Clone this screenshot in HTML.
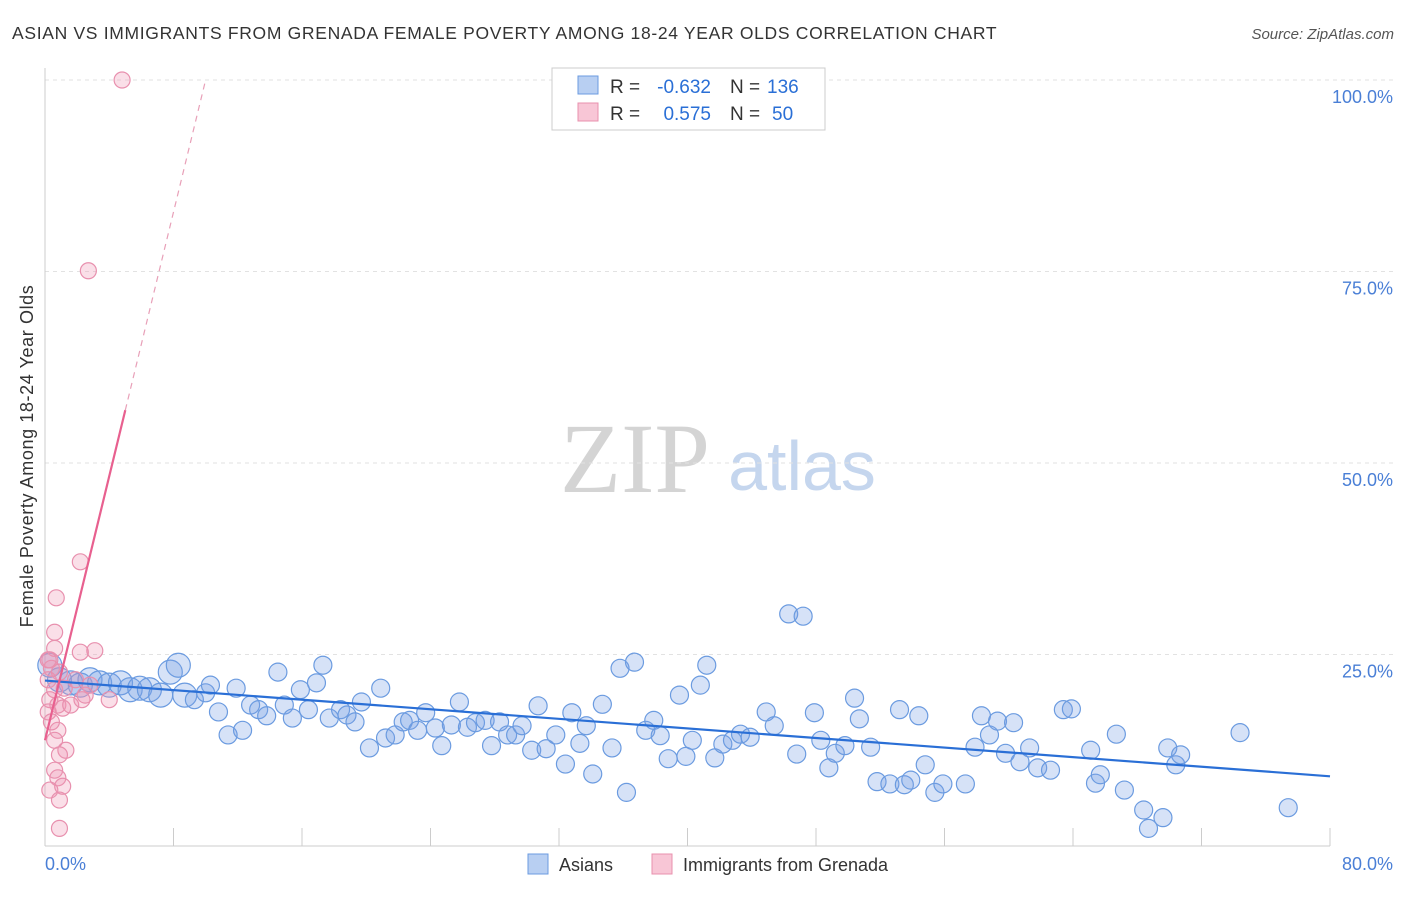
<!DOCTYPE html>
<html><head><meta charset="utf-8">
<style>
body{margin:0;background:#fff;font-family:"Liberation Sans",sans-serif;}
</style></head>
<body>
<svg width="1406" height="892" xmlns="http://www.w3.org/2000/svg" id="chart" font-family="Liberation Sans, sans-serif">
<text x="12" y="39" font-size="17.5" fill="#333" letter-spacing="0.68">ASIAN VS IMMIGRANTS FROM GRENADA FEMALE POVERTY AMONG 18-24 YEAR OLDS CORRELATION CHART</text>
<text x="1394" y="39" font-size="15" fill="#555" text-anchor="end" font-style="italic">Source: ZipAtlas.com</text>
<text transform="translate(33,456) rotate(-90)" font-size="18" fill="#333" text-anchor="middle" letter-spacing="0.6">Female Poverty Among 18-24 Year Olds</text>
<g>
<text x="635" y="492" font-size="100" fill="#d4d4d4" style="font-family:'Liberation Serif',serif" text-anchor="middle">ZIP</text>
<text x="802" y="490" font-size="70" fill="#c5d6ee" text-anchor="middle">atlas</text>
</g>
<g id="grid"></g>
<g id="marks"></g>
<g>
<rect x="552" y="68" width="273" height="62" fill="#fff" stroke="#ccc"/>
<rect x="578" y="76" width="20" height="18" fill="#b8cff2" stroke="#6b9be0"/>
<rect x="578" y="103" width="20" height="18" fill="#f8c6d6" stroke="#e890ae"/>
<text x="610" y="93" font-size="19" fill="#333">R =</text>
<text x="711" y="93" font-size="19" fill="#2a6fd6" text-anchor="end">-0.632</text>
<text x="730" y="93" font-size="19" fill="#333">N =</text>
<text x="767" y="93" font-size="19" fill="#2a6fd6">136</text>
<text x="610" y="120" font-size="19" fill="#333">R =</text>
<text x="711" y="120" font-size="19" fill="#2a6fd6" text-anchor="end">0.575</text>
<text x="730" y="120" font-size="19" fill="#333">N =</text>
<text x="772" y="120" font-size="19" fill="#2a6fd6">50</text>
</g>
<g>
<rect x="528" y="854" width="20" height="20" fill="#b8cff2" stroke="#6b9be0"/>
<text x="559" y="871" font-size="18" fill="#333">Asians</text>
<rect x="652" y="854" width="20" height="20" fill="#f8c6d6" stroke="#e890ae"/>
<text x="683" y="871" font-size="18" fill="#333">Immigrants from Grenada</text>
</g>
</svg>
<script>
const yTicks=[25,50,75,100];
const yTickLabels=["25.0%","50.0%","75.0%","100.0%"];
const xTickLabels=["0.0%","80.0%"];
const asianX=[0.3,0.9,1.6,2.2,2.8,3.4,4.0,4.7,5.3,5.9,6.5,7.2,7.8,8.3,8.7,9.3,10.0,10.3,10.8,11.4,11.9,12.3,12.8,13.3,13.8,14.5,14.9,15.4,15.9,16.4,16.9,17.3,17.7,18.4,18.8,19.3,19.7,20.2,20.9,21.2,21.8,22.3,22.7,23.2,23.7,24.3,24.7,25.3,25.8,26.3,26.8,27.4,27.8,28.3,28.8,29.3,29.7,30.3,30.7,31.2,31.8,32.4,32.8,33.3,33.7,34.1,34.7,35.3,35.8,36.2,36.7,37.4,37.9,38.3,38.8,39.5,39.9,40.3,40.8,41.2,41.7,42.2,42.8,43.3,43.9,44.9,45.4,46.3,46.8,47.2,47.9,48.3,48.8,49.2,49.8,50.4,50.7,51.4,51.8,52.6,53.2,53.5,53.9,54.4,54.8,55.4,55.9,57.3,57.9,58.3,58.8,59.3,59.8,60.3,60.7,61.3,61.8,62.6,63.4,63.9,65.1,65.4,65.7,66.7,67.2,68.4,68.7,69.6,69.9,70.4,70.7,74.4,77.4];
const asianY=[23.6,21.7,21.3,21.0,21.7,21.3,21.0,21.3,20.4,20.6,20.4,19.7,22.7,23.6,19.7,19.1,20.0,21.0,17.5,14.5,20.6,15.1,18.4,17.8,17.0,22.7,18.4,16.7,20.4,17.8,21.3,23.6,16.7,17.8,17.1,16.2,18.8,12.8,20.6,14.1,14.5,16.2,16.4,15.1,17.4,15.4,13.1,15.8,18.8,15.5,16.1,16.4,13.1,16.2,14.5,14.5,15.7,12.5,18.3,12.7,14.5,10.7,17.4,13.4,15.7,9.4,18.5,12.8,23.2,7.0,24.0,15.1,16.4,14.4,11.4,19.7,11.7,13.8,21.0,23.6,11.5,13.3,13.8,14.6,14.2,17.5,15.7,30.3,12.0,30.0,17.4,13.8,10.2,12.1,13.1,19.3,16.6,12.9,8.4,8.1,17.8,8.0,8.6,17.0,10.6,7.0,8.1,8.1,12.9,17.0,14.5,16.3,12.1,16.1,11.0,12.8,10.2,9.9,17.8,17.9,12.5,8.2,9.3,14.6,7.3,4.7,2.3,3.7,12.8,10.6,11.9,14.8,5.0];
const grenX=[4.8,2.7,2.2,0.7,0.6,3.1,2.2,0.6,0.3,0.4,0.9,0.2,0.6,1.2,0.3,0.8,1.1,0.2,1.6,2.3,4.0,0.8,0.6,1.3,0.9,0.6,0.8,0.3,1.1,0.9,0.9,2.8,2.5,0.4,0.2,1.9];
const grenY=[100,75.1,37.1,32.4,27.9,25.5,25.3,25.8,24.3,23.2,22.7,21.7,20.4,20.6,19.1,18.4,18.0,17.5,18.4,19.1,19.1,15.1,13.8,12.5,11.9,9.9,8.9,7.3,7.8,6.0,2.3,21.0,19.7,16.2,24.3,21.7];
const asianTrend=[[0,21.6],[80,9.1]];
const grenTrend=[[0,13.8],[5,56.9],[10,100]];

const X=v=>45+v/80*1285;
const Y=v=>846-v/100*766;
const NS="http://www.w3.org/2000/svg";
function mk(tag,attrs,parent){const e=document.createElementNS(NS,tag);for(const k in attrs)e.setAttribute(k,attrs[k]);parent.appendChild(e);return e;}
const grid=document.getElementById('grid'),marks=document.getElementById('marks');
yTicks.forEach((t,i)=>{
 const l=mk('line',{x1:45,x2:1394,y1:Y(t),y2:Y(t),stroke:'#e2e2e2','stroke-dasharray':'4,4'},grid);
 
 
 const tx=mk('text',{x:1393,y:Y(t)+23,'font-size':18,fill:'#4a7fd6','text-anchor':'end'},grid);
 tx.textContent=yTickLabels[i];
 
 
});
const ax=mk('line',{x1:45,x2:1330,y1:846,y2:846,stroke:'#ccc'},grid);


const ay=mk('line',{x1:45,x2:45,y1:68,y2:846,stroke:'#ccc'},grid);


for(let i=1;i<=10;i++){const t=mk('line',{x1:X(i*8),x2:X(i*8),y1:828,y2:846,stroke:'#ccc'},grid);
 
 }
const x0=mk('text',{x:45,y:870,'font-size':18,fill:'#4a7fd6'},grid);x0.textContent=xTickLabels[0];


const x1=mk('text',{x:1393,y:870,'font-size':18,fill:'#4a7fd6','text-anchor':'end'},grid);x1.textContent=xTickLabels[1];



asianX.forEach((v,i)=>{
 const r=v<9?12:9;
 const c=mk('circle',{cx:X(v),cy:Y(asianY[i]),r:r,fill:'rgba(120,160,230,0.3)',stroke:'#6b9be0','stroke-width':1.2},marks);
 
 
});
grenX.forEach((v,i)=>{
 const c=mk('circle',{cx:X(v),cy:Y(grenY[i]),r:8,fill:'rgba(240,150,180,0.3)',stroke:'#e890ae','stroke-width':1.2},marks);
 
 
});
const bt=mk('line',{x1:X(asianTrend[0][0]),y1:Y(asianTrend[0][1]),x2:X(asianTrend[1][0]),y2:Y(asianTrend[1][1]),stroke:'#2a6fd6','stroke-width':2.2},marks);


const pt=mk('line',{x1:X(grenTrend[0][0]),y1:Y(grenTrend[0][1]),x2:X(grenTrend[1][0]),y2:Y(grenTrend[1][1]),stroke:'#e8608f','stroke-width':2.2},marks);


const pd=mk('line',{x1:X(grenTrend[1][0]),y1:Y(grenTrend[1][1]),x2:X(grenTrend[2][0]),y2:Y(grenTrend[2][1]),stroke:'#e8a0b8','stroke-width':1.2,'stroke-dasharray':'6,5'},marks);


</script>
</body></html>
